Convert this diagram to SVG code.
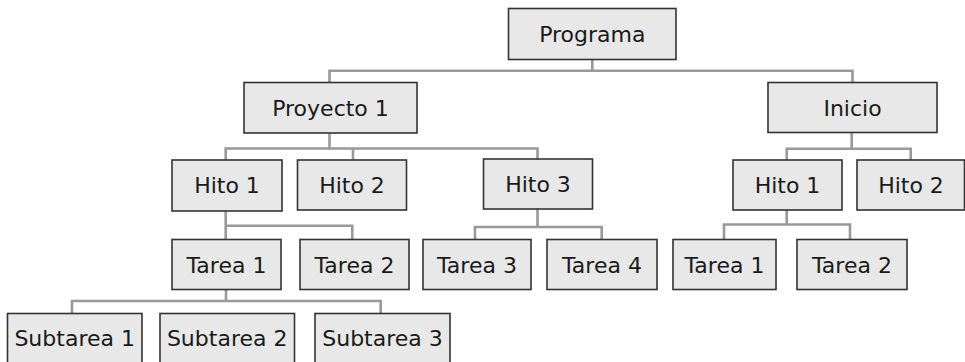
<svg xmlns="http://www.w3.org/2000/svg" width="965" height="362" viewBox="0 0 965 362">
<style>
.box{fill:#e8e8e8;stroke:#333;stroke-width:1.6}
.lbl{font-family:"DejaVu Sans",sans-serif;font-size:22px;fill:#1a1a1a;text-anchor:middle}
.con{fill:none;stroke:#999;stroke-width:2.6}
</style>
<rect width="965" height="362" fill="#fff"/>
<g id="connectors">
<path class="con" d="M592.3 59.5V70.7M329.5 82.5V70.7H852.5V82.5"/>
<path class="con" d="M329.5 133V148.5M225.7 160V148.5H537.5V159M353 148.5V160"/>
<path class="con" d="M851.7 132.7V148.7M786.7 160V148.7H910.7V160"/>
<path class="con" d="M225.7 211V225.7M225.7 239.5V225.7H352.3V239.5"/>
<path class="con" d="M537.5 209V227M475 239.5V227H601.7V239.5"/>
<path class="con" d="M786.7 210V224.5M724 239.5V224.5H850V239.5"/>
<path class="con" d="M226 289.5V301M72 313.5V301H380.7V313.5"/>
</g>
<g id="programa"><rect class="box" x="508.5" y="8.5" width="167.5" height="51"/><text class="lbl" x="592.3" y="42">Programa</text></g>
<g id="proyecto1"><rect class="box" x="244" y="82.5" width="173" height="50.5"/><text class="lbl" x="330.5" y="115.8">Proyecto 1</text></g>
<g id="inicio"><rect class="box" x="768" y="82.5" width="169" height="50"/><text class="lbl" x="852.5" y="115.8">Inicio</text></g>
<g id="hito1a"><rect class="box" x="172" y="160" width="110" height="51"/><text class="lbl" x="227" y="193.3">Hito 1</text></g>
<g id="hito2a"><rect class="box" x="297.5" y="160" width="109" height="50"/><text class="lbl" x="352" y="193.3">Hito 2</text></g>
<g id="hito3"><rect class="box" x="483.5" y="159" width="109" height="50"/><text class="lbl" x="538" y="192.3">Hito 3</text></g>
<g id="hito1b"><rect class="box" x="733" y="160" width="109" height="50"/><text class="lbl" x="787.5" y="193.3">Hito 1</text></g>
<g id="hito2b"><rect class="box" x="857" y="160" width="107.5" height="50"/><text class="lbl" x="911" y="193.3">Hito 2</text></g>
<g id="tarea1a"><rect class="box" x="172" y="239.5" width="109" height="50"/><text class="lbl" x="226.5" y="272.8">Tarea 1</text></g>
<g id="tarea2a"><rect class="box" x="300" y="239.5" width="109" height="50"/><text class="lbl" x="354.5" y="272.8">Tarea 2</text></g>
<g id="tarea3"><rect class="box" x="423" y="239.5" width="108" height="50"/><text class="lbl" x="477" y="272.8">Tarea 3</text></g>
<g id="tarea4"><rect class="box" x="547" y="239.5" width="110" height="50"/><text class="lbl" x="602" y="272.8">Tarea 4</text></g>
<g id="tarea1b"><rect class="box" x="673" y="239.5" width="103" height="50"/><text class="lbl" x="724.5" y="272.8">Tarea 1</text></g>
<g id="tarea2b"><rect class="box" x="797" y="239.5" width="110" height="50"/><text class="lbl" x="852" y="272.8">Tarea 2</text></g>
<g id="subtarea1"><rect class="box" x="7.5" y="313.5" width="134.5" height="51"/><text class="lbl" x="74.7" y="346.3">Subtarea 1</text></g>
<g id="subtarea2"><rect class="box" x="160" y="313.5" width="134.5" height="51"/><text class="lbl" x="227.2" y="346.3">Subtarea 2</text></g>
<g id="subtarea3"><rect class="box" x="315" y="313.5" width="135" height="51"/><text class="lbl" x="382.5" y="346.3">Subtarea 3</text></g>
</svg>
